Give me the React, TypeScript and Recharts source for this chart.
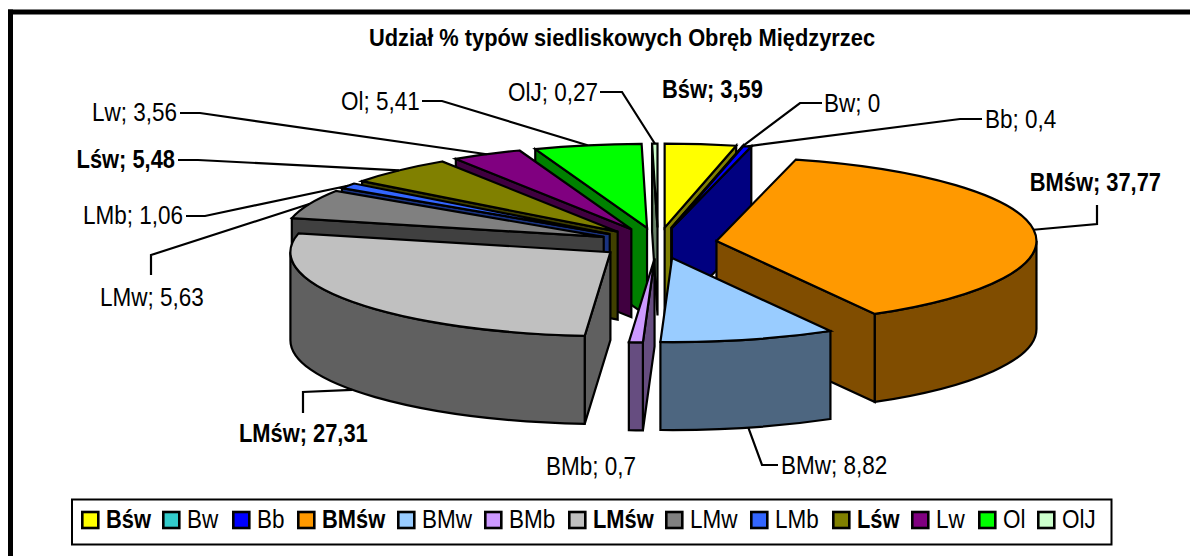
import { PieChart, Pie, Legend } from 'recharts';

const names = ['Bśw', 'Bw', 'Bb', 'BMśw', 'BMw', 'BMb', 'LMśw', 'LMw', 'LMb', 'Lśw', 'Lw', 'Ol', 'OlJ'];
const shares = [3.59, 0, 0.4, 37.77, 8.82, 0.7, 27.31, 5.63, 1.06, 5.48, 3.56, 5.41, 0.27];
const tops = ['#ffff00', '#33cccc', '#0000ff', '#ff9900', '#99ccff', '#cc99ff', '#c0c0c0', '#808080', '#3366ff', '#808000', '#800080', '#00ff00', '#ccffcc'];
const sides = ['#808000', '#1a6666', '#000080', '#804d00', '#4d6680', '#664d80', '#606060', '#404040', '#1a3380', '#404000', '#400040', '#008000', '#668066'];
const boldNames = ['Bśw', 'BMśw', 'LMśw', 'Lśw'];
const leftNames = ['LMśw', 'LMw', 'LMb', 'Lśw', 'Lw', 'Ol', 'OlJ'];

const slices = names.map((name, i) => ({ name, value: shares[i], fill: tops[i], side: sides[i] }));

const W = 1190;
const H = 556;
const CX = 658;
const CY = 243;
const RX = 320;
const RY = 84;
const DEPTH = 88;
const EXPLODE = 59;
const FONT = '"Liberation Sans", Arial, sans-serif';

// label spots were moved by hand in the original, so they are layout and not data
const labelSpots: Record<string, { x: number; y: number; anchor: string; line?: number[][] }> = {
  'Bśw': { x: 662, y: 98, anchor: 'start' },
  'Bw': { x: 824, y: 112, anchor: 'start', line: [[822, 103], [800, 103]] },
  'Bb': { x: 985, y: 128, anchor: 'start', line: [[982, 119], [960, 119]] },
  'BMśw': { x: 1161, y: 191, anchor: 'end', line: [[1097, 205], [1097, 224]] },
  'BMw': { x: 781, y: 474, anchor: 'start', line: [[778, 465], [762, 465]] },
  'BMb': { x: 546, y: 475, anchor: 'start' },
  'LMśw': { x: 239, y: 442, anchor: 'start', line: [[303, 413], [303, 392]] },
  'LMw': { x: 100, y: 306, anchor: 'start', line: [[151, 275], [151, 255]] },
  'LMb': { x: 183, y: 224, anchor: 'end', line: [[186, 216], [205, 216]] },
  'Lśw': { x: 175, y: 168, anchor: 'end', line: [[178, 160], [198, 160]] },
  'Lw': { x: 177, y: 121, anchor: 'end', line: [[180, 113], [200, 113]] },
  'Ol': { x: 341, y: 110, anchor: 'start', line: [[422, 101], [442, 101]] },
  'OlJ': { x: 508, y: 101, anchor: 'start', line: [[600, 92], [622, 92]] },
};
const legendX = [81, 162, 232, 297, 397, 484, 568, 665, 750, 832, 911, 978, 1037];

const rad = (deg: number) => (deg * Math.PI) / 180;

function SqueezedText({ x, y, anchor = 'start', bold = false, size = 25, sx, children }: any) {
  return (
    <text
      transform={`translate(${x} ${y}) scale(${sx ?? (bold ? 0.875 : 0.9)} 1)`}
      textAnchor={anchor}
      fontFamily={FONT}
      fontSize={size}
      fontWeight={bold ? 'bold' : 'normal'}
      fill="#000"
    >
      {children}
    </text>
  );
}

// apex of an exploded slice on the flattened pie
function apexOf(mid: number) {
  return {
    x: CX + EXPLODE * Math.cos(rad(mid)),
    y: CY - EXPLODE * (RY / RX) * Math.sin(rad(mid)),
  };
}

function Slice3D(props: any, wantLeft: boolean) {
  const name = props.payload?.name ?? props.name;
  if (leftNames.includes(name) !== wantLeft) return <g />;
  const side = props.payload?.side ?? props.side;
  const fill = props.payload?.fill ?? props.fill;
  const a0 = Math.max(props.startAngle, props.endAngle);
  const a1 = Math.min(props.startAngle, props.endAngle);
  const apex = apexOf(props.midAngle);
  const rim = (a: number) => ({
    x: apex.x + RX * Math.cos(rad(a)),
    y: apex.y - RY * Math.sin(rad(a)),
  });
  const p0 = rim(a0);
  const p1 = rim(a1);
  const common = { stroke: '#000', strokeWidth: 2.2, strokeLinejoin: 'miter' as const };
  const face = (p: { x: number; y: number }) =>
    `M${apex.x} ${apex.y}L${p.x} ${p.y}L${p.x} ${p.y + DEPTH}L${apex.x} ${apex.y + DEPTH}Z`;

  // clockwise from 12 o'clock: the wall shows between 3 and 9 o'clock only
  // the reversed pie runs through negative clock angles, hence the shift
  const shift = 90 - a0 < 0 ? 360 : 0;
  const clock0 = 90 - a0 + shift;
  const clock1 = 90 - a1 + shift;
  const from = Math.max(clock0, 90);
  const to = Math.min(clock1, 270);
  let wall = null;
  if (to > from) {
    const w0 = rim(90 - from);
    const w1 = rim(90 - to);
    wall = (
      <path
        d={`M${w0.x} ${w0.y}A${RX} ${RY} 0 0 1 ${w1.x} ${w1.y}L${w1.x} ${w1.y + DEPTH}A${RX} ${RY} 0 0 0 ${w0.x} ${w0.y + DEPTH}Z`}
        fill={side}
        {...common}
      />
    );
  }
  const sinStart = Math.sin(rad(clock0));
  const sinEnd = Math.sin(rad(clock1));
  const large = clock1 - clock0 > 180 ? 1 : 0;

  return (
    <g>
      {sinStart < 0 && <path d={face(p0)} fill={side} {...common} />}
      {sinEnd > 0 && <path d={face(p1)} fill={side} {...common} />}
      {wall}
      <path
        d={`M${apex.x} ${apex.y}L${p0.x} ${p0.y}A${RX} ${RY} 0 ${large} 1 ${p1.x} ${p1.y}Z`}
        fill={fill}
        {...common}
      />
    </g>
  );
}

function SliceLabel(props: any) {
  const name = props.payload?.name ?? props.name;
  const spot = labelSpots[name];
  const value = String(props.payload?.value ?? props.value).replace('.', ',');
  const apex = apexOf(props.midAngle);
  const front = Math.sin(rad(props.midAngle)) < 0;
  const end = {
    x: apex.x + RX * Math.cos(rad(props.midAngle)),
    y: apex.y - RY * Math.sin(rad(props.midAngle)) + (front ? DEPTH : 0),
  };
  return (
    <g>
      {spot.line && (
        <polyline
          points={[...spot.line, [end.x, end.y]].map((p) => p.join(',')).join(' ')}
          fill="none"
          stroke="#000"
          strokeWidth={2.2}
        />
      )}
      <SqueezedText x={spot.x} y={spot.y} anchor={spot.anchor} bold={boldNames.includes(name)}>
        {`${name}; ${value}`}
      </SqueezedText>
    </g>
  );
}

function LegendBox({ payload }: any) {
  // both pies report their slices, so take each name once, in series order
  const items = names.map((name) => (payload || []).find((entry: any) => entry.value === name));
  return (
    <svg width={W} height={H} style={{ display: 'block' }}>
      <rect x={72} y={499.5} width={1039.5} height={45} fill="#fff" stroke="#000" strokeWidth={2} />
      {items.map((entry: any, i: number) =>
        entry ? (
          <g key={entry.value}>
            <rect x={legendX[i] + 1.3} y={512} width={16} height={16} fill={entry.color} stroke="#000" strokeWidth={2.6} />
            <SqueezedText x={legendX[i] + 25} y={528} bold={boldNames.includes(entry.value)}>
              {entry.value}
            </SqueezedText>
          </g>
        ) : null,
      )}
    </svg>
  );
}

export default function App() {
  return (
    <div style={{ position: 'absolute', left: 0, top: 0, width: W, height: H, background: '#fff' }}>
      <PieChart width={W} height={H} margin={{ top: 0, right: 0, bottom: 0, left: 0 }}>
        <line x1={8} y1={12} x2={W} y2={12} stroke="#000" strokeWidth={5} />
        <line x1={10.5} y1={9.5} x2={10.5} y2={H} stroke="#000" strokeWidth={5} />
        <SqueezedText x={622} y={46} anchor="middle" bold size={23} sx={0.95}>
          Udział % typów siedliskowych Obręb Międzyrzec
        </SqueezedText>
        <Pie
          data={[...slices].reverse()}
          dataKey="value"
          nameKey="name"
          cx={CX}
          cy={CY}
          outerRadius={RX}
          startAngle={90}
          endAngle={450}
          legendType="none"
          label={false}
          labelLine={false}
          isAnimationActive={false}
          shape={(p: any) => Slice3D(p, true)}
        />
        <Pie
          data={slices}
          dataKey="value"
          nameKey="name"
          cx={CX}
          cy={CY}
          outerRadius={RX}
          startAngle={90}
          endAngle={-270}
          label={SliceLabel}
          labelLine={false}
          isAnimationActive={false}
          shape={(p: any) => Slice3D(p, false)}
        />
        <Legend content={LegendBox} wrapperStyle={{ left: 0, top: 0, width: W, height: H, pointerEvents: 'none' }} />
      </PieChart>
    </div>
  );
}
